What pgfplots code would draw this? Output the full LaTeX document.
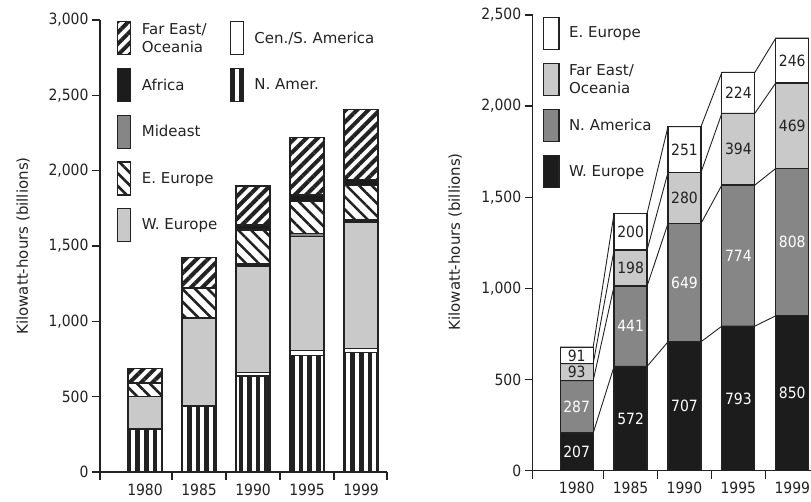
\documentclass[border=0pt]{standalone}
\usepackage{fontspec}
\setmainfont{DejaVu Sans}
\newfontfamily\cond{DejaVu Sans Condensed}
\usepackage{pgfplots}
\usepackage{pgfplotstable}
\pgfplotsset{compat=1.18}
\usetikzlibrary{patterns.meta}

\definecolor{ink}{HTML}{222222}
\definecolor{lite}{HTML}{C9C9C9}
\definecolor{mid}{HTML}{868686}
\definecolor{blk}{HTML}{1C1C1C}

\tikzset{
  namer/.style={pattern={Lines[angle=90,distance=8.6pt,line width=4.6pt]},pattern color=ink},
  fareast/.style={pattern={Lines[angle=45,distance=8pt,line width=4pt]},pattern color=ink},
  eeur/.style={pattern={Lines[angle=-45,distance=9pt,line width=2.6pt]},pattern color=ink},
}

% left chart, bottom to top
\pgfplotstableread{
x namer cens weur mideast eeur africa fareast
0 285 3 212 3 86 3 97
1 438 3 579 3 196 3 203
2 637 22 708 13 226 33 259
3 774 32 759 20 209 44 383
4 792 29 838 13 232 38 465
}\leftdata

% right chart, bottom to top
\pgfplotstableread{
x weur namer fareast eeur
0 207 287 93 91
1 572 441 198 200
2 707 649 280 251
3 793 774 394 224
4 850 808 469 246
}\rightdata

\pgfplotsset{
  kwh/.style={
    scale only axis, anchor=south west,
    ybar stacked,
    ymin=0,
    axis lines*=left,
    axis line style={-, draw=ink, line width=1.3pt},
    tick align=outside,
    major tick length=8pt, minor tick length=8pt,
    xtick={0,...,4},
    xticklabels={1980,1985,1990,1995,1999},
    major x tick style={draw=none},
    minor x tick style={draw=ink, line width=1.3pt},
    ytick style={draw=ink, line width=1.3pt},
    tick label style={font=\cond\fontsize{15.5}{18}\selectfont, text=ink},
    /pgf/number format/assume math mode=true,
    ylabel={Kilowatt-hours (billions)},
    ylabel style={font=\fontsize{15}{18}\selectfont, text=ink, anchor=center},
    every axis plot/.append style={draw=ink, line width=1.2pt},
    legend cell align=left,
    legend style={draw=none, fill=none, inner sep=0pt, anchor=north west,
      font=\fontsize{15}{18}\selectfont, text=ink,
      nodes={inner xsep=4.5pt, inner ysep=0pt, align=left},
      /tikz/column sep=0pt},
  },
  lab/.style={draw=none, mark=none, nodes near coords, point meta=\thisrow{#1},
    nodes near coords align={center}},
}

\begin{document}
\begin{tikzpicture}
\useasboundingbox (0,0) rectangle (811pt,501pt);

% ---------- left chart ----------
\begin{axis}[kwh, at={(100pt,29pt)}, width=287pt, height=452pt,
  xmin=-0.833, xmax=4.48, ymax=3000, ytick={0,500,...,3000},
  minor xtick={-0.833,0.5,1.5,2.5,3.5,4.48},
  bar width=34pt,
  ylabel style={at={(axis description cs:-0.268,0.5)}},
  legend columns=2,
  legend image code/.code={\draw[#1,draw=ink,line width=1.2pt] (0pt,-16.5pt) rectangle (13pt,16.5pt);},
  legend style={at={(0.059,0.9976)}, /tikz/row sep=12.5pt,
    /tikz/every odd column/.append style={column sep=6pt},
    /tikz/every even column/.append style={column sep=8pt}},
]
\addplot[namer, forget plot] table[x=x,y=namer]{\leftdata};
\addplot[fill=white, forget plot] table[x=x,y=cens]{\leftdata};
\addplot[fill=lite, forget plot] table[x=x,y=weur]{\leftdata};
\addplot[fill=mid, forget plot] table[x=x,y=mideast]{\leftdata};
\addplot[eeur, forget plot] table[x=x,y=eeur]{\leftdata};
\addplot[fill=blk, forget plot] table[x=x,y=africa]{\leftdata};
\addplot[fareast, forget plot] table[x=x,y=fareast]{\leftdata};

\addlegendimage{fareast}\addlegendentry{Far East/\\Oceania}
\addlegendimage{fill=white}\addlegendentry{Cen./S. America}
\addlegendimage{fill=blk}\addlegendentry{Africa}
\addlegendimage{namer}\addlegendentry{N. Amer.}
\addlegendimage{fill=mid}\addlegendentry{Mideast}
\addlegendimage{empty legend}\addlegendentry{}
\addlegendimage{eeur}\addlegendentry{E. Europe}
\addlegendimage{empty legend}\addlegendentry{}
\addlegendimage{fill=lite}\addlegendentry{W. Europe}
\end{axis}

% ---------- right chart ----------
\begin{axis}[kwh, at={(532.7pt,30.3pt)}, width=286.5pt, height=455.7pt,
  xmin=-0.816, xmax=4.5, ymax=2500, ytick={0,500,...,2500},
  minor xtick={-0.816,0.5,1.5,2.5,3.5},
  bar width=33pt,
  ylabel style={at={(axis description cs:-0.271,0.502)}},
  legend image code/.code={\draw[#1,draw=ink,line width=1.2pt] (0pt,-16pt) rectangle (15.5pt,16pt);},
  legend style={at={(0.0346,0.997)}, /tikz/row sep=13pt,
    /tikz/every odd column/.append style={column sep=5pt}},
]
\addplot[fill=blk, forget plot] table[x=x,y=weur]{\rightdata};
\addplot[fill=mid, forget plot] table[x=x,y=namer]{\rightdata};
\addplot[fill=lite, forget plot] table[x=x,y=fareast]{\rightdata};
\addplot[fill=white, forget plot] table[x=x,y=eeur]{\rightdata};

\addlegendimage{fill=white}\addlegendentry{E. Europe}
\addlegendimage{fill=lite}\addlegendentry{Far East/\\Oceania}
\addlegendimage{fill=mid}\addlegendentry{N. America}
\addlegendimage{fill=blk}\addlegendentry{W. Europe}
\end{axis}

% connecting lines and value labels of the right chart (not stacked)
\begin{axis}[at={(532.7pt,30.3pt)}, anchor=south west, scale only axis,
  width=286.5pt, height=455.7pt,
  xmin=-0.816, xmax=4.5, ymin=0, ymax=2500, hide axis,
  /pgf/number format/assume math mode=true,
  every node near coord/.append style={anchor=center, inner sep=0pt,
    font=\cond\fontsize{15.5}{15.5}\selectfont},
]
\addplot[ink, line width=0.9pt] coordinates {(-0.306,207) (0.306,207) (0.694,572) (1.306,572) (1.694,707) (2.306,707) (2.694,793) (3.306,793) (3.694,850) (4.306,850)};
\addplot[ink, line width=0.9pt] coordinates {(-0.306,494) (0.306,494) (0.694,1013) (1.306,1013) (1.694,1356) (2.306,1356) (2.694,1567) (3.306,1567) (3.694,1658) (4.306,1658)};
\addplot[ink, line width=0.9pt] coordinates {(-0.306,587) (0.306,587) (0.694,1211) (1.306,1211) (1.694,1636) (2.306,1636) (2.694,1961) (3.306,1961) (3.694,2127) (4.306,2127)};
\addplot[ink, line width=0.9pt] coordinates {(-0.306,678) (0.306,678) (0.694,1411) (1.306,1411) (1.694,1887) (2.306,1887) (2.694,2185) (3.306,2185) (3.694,2373) (4.306,2373)};

\addplot[lab=weur, every node near coord/.append style={text=white}]
  table[x=x, y expr=\thisrow{weur}/2]{\rightdata};
\addplot[lab=namer, every node near coord/.append style={text=white}]
  table[x=x, y expr=\thisrow{weur}+\thisrow{namer}/2]{\rightdata};
\addplot[lab=fareast, every node near coord/.append style={text=ink}]
  table[x=x, y expr=\thisrow{weur}+\thisrow{namer}+\thisrow{fareast}/2]{\rightdata};
\addplot[lab=eeur, every node near coord/.append style={text=ink}]
  table[x=x, y expr=\thisrow{weur}+\thisrow{namer}+\thisrow{fareast}+\thisrow{eeur}/2]{\rightdata};
\end{axis}
\end{tikzpicture}
\end{document}
